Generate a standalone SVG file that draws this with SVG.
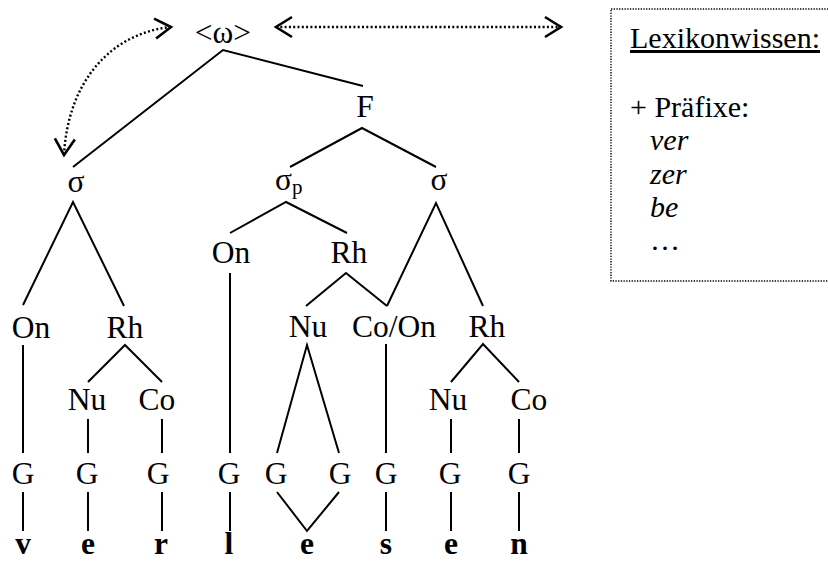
<svg xmlns="http://www.w3.org/2000/svg" width="828" height="562" viewBox="0 0 828 562">
  <style>
    text { font-family: "Liberation Serif", "Times New Roman", serif; font-size: 31.5px; fill: #000; }
    .n { text-anchor: middle; }
    .seg { font-weight: bold; text-anchor: middle; }
    .lex { font-size: 30px; }
    .it { font-style: italic; }
    .edge { stroke: #000; stroke-width: 2; fill: none; stroke-linecap: butt; }
    .dot { stroke: #000; stroke-width: 2.4; fill: none; stroke-dasharray: 2 2.3; }
    .box { stroke: #000; stroke-width: 1.4; fill: none; stroke-dasharray: 1.3 1.4; }
  </style>
  <defs>
    <marker id="chev" markerUnits="userSpaceOnUse" markerWidth="30" markerHeight="30" refX="0" refY="0" orient="auto-start-reverse" overflow="visible">
      <path d="M -16,-10 L 0,0 L -16,10" fill="none" stroke="#000" stroke-width="2.6"/>
    </marker>
  </defs>
  <rect width="828" height="562" fill="#fff"/>

  <!-- tree nodes -->
  <g id="root"><text class="n" x="223" y="43">&lt;ω&gt;</text></g>
  <g id="foot"><text class="n" x="365" y="117">F</text></g>
  <g id="syl1"><text class="n" x="76" y="192">σ</text></g>
  <g id="syl2"><text x="275" y="190">σ<tspan font-size="21" dy="4">p</tspan></text></g>
  <g id="syl3"><text class="n" x="439" y="190">σ</text></g>
  <g id="on1"><text class="n" x="31" y="338">On</text></g>
  <g id="rh1"><text class="n" x="125" y="338">Rh</text></g>
  <g id="on2"><text class="n" x="231" y="263">On</text></g>
  <g id="rh2"><text class="n" x="349" y="263">Rh</text></g>
  <g id="nu2"><text class="n" x="308" y="337">Nu</text></g>
  <g id="coon"><text class="n" x="394" y="337">Co/On</text></g>
  <g id="rh3"><text class="n" x="487" y="337">Rh</text></g>
  <g id="nu1"><text class="n" x="87" y="410">Nu</text></g>
  <g id="co1"><text class="n" x="157" y="410">Co</text></g>
  <g id="nu3"><text class="n" x="448" y="410">Nu</text></g>
  <g id="co3"><text class="n" x="529" y="410">Co</text></g>

  <!-- skeleton slots -->
  <g id="g1"><text class="n" x="23" y="484">G</text></g>
  <g id="g2"><text class="n" x="87" y="484">G</text></g>
  <g id="g3"><text class="n" x="158" y="484">G</text></g>
  <g id="g4"><text class="n" x="229" y="484">G</text></g>
  <g id="g5"><text class="n" x="276" y="484">G</text></g>
  <g id="g6"><text class="n" x="340" y="484">G</text></g>
  <g id="g7"><text class="n" x="386" y="484">G</text></g>
  <g id="g8"><text class="n" x="450" y="484">G</text></g>
  <g id="g9"><text class="n" x="519" y="484">G</text></g>

  <!-- segments -->
  <g id="s-v"><text class="seg" x="23" y="554">v</text></g>
  <g id="s-e1"><text class="seg" x="88" y="554">e</text></g>
  <g id="s-r"><text class="seg" x="161" y="554">r</text></g>
  <g id="s-l"><text class="seg" x="229" y="554">l</text></g>
  <g id="s-e2"><text class="seg" x="307" y="554">e</text></g>
  <g id="s-s"><text class="seg" x="386" y="554">s</text></g>
  <g id="s-e3"><text class="seg" x="451" y="554">e</text></g>
  <g id="s-n"><text class="seg" x="519" y="554">n</text></g>

  <!-- lexicon panel -->
  <g id="lexicon">
    <rect class="box" x="611" y="9" width="230" height="272"/>
    <text class="lex" x="630" y="48" text-decoration="underline">Lexikonwissen:</text>
    <text class="lex" x="630" y="117">+ Präfixe:</text>
    <text class="lex it" x="650" y="150">ver</text>
    <text class="lex it" x="650" y="184">zer</text>
    <text class="lex it" x="650" y="217">be</text>
    <text class="lex" x="650" y="250">…</text>
  </g>

  <!-- connectors -->
  <g id="connectors">
    <path class="edge" d="M73,167 L223,50 L363,86"/>
    <path class="edge" d="M290,167 L362,128 L436,167"/>
    <path class="edge" d="M23,305 L73,202 L124,306"/>
    <path class="edge" d="M230,233 L286,202 L347,233"/>
    <path class="edge" d="M387,306 L436,203 L483,306"/>
    <path class="edge" d="M306,306 L346,273 L387,306"/>
    <path class="edge" d="M230,273 V453"/>
    <path class="edge" d="M23,345 V453"/>
    <path class="edge" d="M88,382 L125,345 L162,382"/>
    <path class="edge" d="M277,453 L307,345 L339,453"/>
    <path class="edge" d="M386,344 V453"/>
    <path class="edge" d="M451,382 L483,344 L519,382"/>
    <path class="edge" d="M88,419 V453 M162,419 V453 M451,419 V453 M519,419 V453"/>
    <path class="edge" d="M23,492 V531 M88,492 V531 M162,492 V531 M230,492 V531 M386,492 V531 M451,492 V531 M519,492 V531"/>
    <path class="edge" d="M277,492 L307,531 L339,492"/>
    <!-- dotted relations of the prosodic word -->
    <path class="dot" d="M171,27 C112,33 68,80 64,155" marker-start="url(#chev)" marker-end="url(#chev)"/>
    <path class="dot" d="M276,27 H561" marker-start="url(#chev)" marker-end="url(#chev)"/>
  </g>
</svg>
